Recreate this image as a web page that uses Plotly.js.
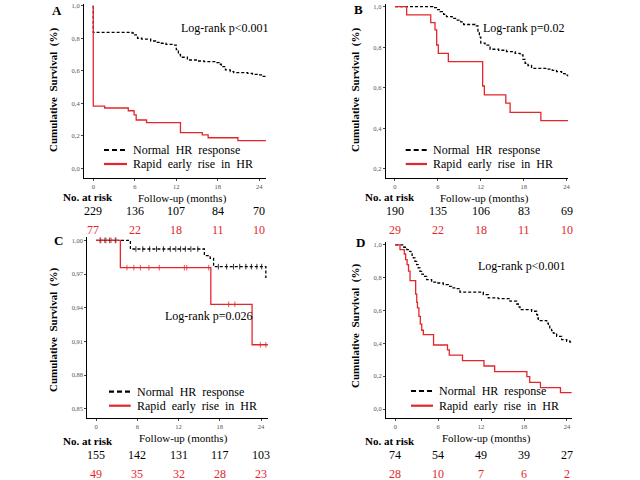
<!DOCTYPE html>
<html>
<head>
<meta charset="utf-8">
<script src="https://cdn.plot.ly/plotly-3.0.1.min.js"></script>
<style>html,body{margin:0;padding:0;background:#fff;}#chart{width:640px;height:480px;}</style>
</head>
<body>
<div id="chart"></div>
<script>
// ---------- DATA ----------
const riskMonths = [0, 6, 12, 18, 24];

// Panel A
const aNormT = [0, 0, 5.6, 6.0, 6.4, 7.0, 8.3, 9.0, 9.7, 10.5, 11.6, 12.0, 12.3, 12.6, 13.6, 15.0, 16.0, 17.7, 18.2, 18.5, 19.1, 19.8, 20.3, 22.3, 23.0, 23.7, 24.3, 24.9];
const aNormS = [1.0, 0.836, 0.832, 0.82, 0.80, 0.795, 0.783, 0.775, 0.769, 0.762, 0.758, 0.73, 0.70, 0.683, 0.666, 0.66, 0.656, 0.650, 0.64, 0.625, 0.605, 0.595, 0.588, 0.584, 0.578, 0.574, 0.565, 0.557];
const aRapT = [0, 0, 1.65, 5.06, 5.9, 6.2, 7.7, 12.6, 15.75, 16.6, 20.9, 24.95];
const aRapS = [1.0, 0.383, 0.371, 0.354, 0.328, 0.297, 0.281, 0.219, 0.205, 0.188, 0.170, 0.170];
const aRiskNorm = [229, 136, 107, 84, 70];
const aRiskRap = [77, 22, 18, 11, 10];

// Panel B
const bNormT = [0, 5.3, 5.8, 6.3, 6.8, 7.2, 8.0, 8.6, 9.2, 9.6, 11.2, 11.6, 11.8, 12.0, 12.6, 13.3, 14.5, 15.6, 16.8, 17.5, 17.9, 18.2, 18.6, 19.1, 21.2, 22.0, 22.6, 23.3, 23.8, 24.2];
const bNormS = [1.0, 0.995, 0.985, 0.975, 0.962, 0.951, 0.942, 0.934, 0.925, 0.912, 0.905, 0.88, 0.85, 0.82, 0.81, 0.79, 0.785, 0.778, 0.77, 0.762, 0.74, 0.721, 0.71, 0.696, 0.692, 0.686, 0.68, 0.67, 0.662, 0.655];
const bRapT = [0, 1.63, 5.0, 5.6, 5.83, 6.06, 7.46, 12.26, 12.5, 15.5, 16.1, 20.4, 24.2];
const bRapS = [1.0, 0.959, 0.921, 0.885, 0.811, 0.770, 0.729, 0.609, 0.565, 0.524, 0.479, 0.438, 0.438];
const bRiskNorm = [190, 135, 106, 83, 69];
const bRiskRap = [29, 22, 18, 11, 10];

// Panel C
const cNormT = [0, 5.0, 15.76, 16.6, 17.1, 24.7, 24.8];
const cNormS = [1.0, 0.9923, 0.9864, 0.984, 0.9766, 0.967, 0.967];
const cRapT = [0, 3.54, 16.7, 22.7, 25.0];
const cRapS = [1.0, 0.9757, 0.943, 0.907, 0.907];
const cNormCens = [0.6, 1.3, 2.0, 2.8, 5.8, 6.8, 7.8, 8.8, 9.8, 10.8, 11.6, 12.3, 13.0, 13.8, 14.8, 17.8, 19.0, 20.0, 20.9, 21.8, 22.6, 23.4, 24.1];
const cRapCens = [0.7, 1.45, 2.2, 2.9, 4.5, 5.5, 6.45, 7.7, 9.2, 12.85, 13.2, 16.4, 19.3, 20.2, 23.9, 24.7];
const cRiskNorm = [155, 142, 131, 117, 103];
const cRiskRap = [49, 35, 32, 28, 23];

// Panel D
const dNormT = [0, 1.2, 1.6, 1.82, 2.19, 2.35, 2.52, 2.75, 2.98, 3.2, 3.45, 3.7, 3.91, 4.38, 5.08, 5.78, 6.71, 7.41, 7.88, 8.58, 9.04, 12.31, 13.0, 14.4, 16.04, 16.97, 17.2, 17.44, 19.07, 19.77, 19.9, 20.0, 21.17, 21.4, 21.6, 21.85, 22.1, 22.57, 23.27, 23.97, 24.43, 24.6];
const dNormS = [1.0, 0.986, 0.972, 0.961, 0.951, 0.936, 0.921, 0.90, 0.880, 0.86, 0.839, 0.822, 0.809, 0.789, 0.774, 0.768, 0.758, 0.748, 0.738, 0.734, 0.713, 0.697, 0.677, 0.673, 0.657, 0.640, 0.622, 0.606, 0.596, 0.575, 0.556, 0.539, 0.524, 0.509, 0.494, 0.478, 0.463, 0.443, 0.423, 0.413, 0.408, 0.408];
const dRapT = [0, 0.66, 1.26, 1.45, 1.65, 1.85, 2.06, 2.85, 3.0, 3.1, 3.3, 3.5, 3.7, 3.92, 5.35, 7.3, 7.55, 9.4, 12.4, 13.9, 18.4, 18.8, 20.3, 23.1, 24.7];
const dRapS = [1.0, 0.971, 0.945, 0.91, 0.88, 0.84, 0.782, 0.70, 0.65, 0.616, 0.565, 0.518, 0.48, 0.453, 0.39, 0.36, 0.329, 0.295, 0.262, 0.228, 0.197, 0.162, 0.13, 0.10, 0.10];
const dRiskNorm = [74, 54, 49, 39, 27];
const dRiskRap = [28, 10, 7, 6, 2];

const panelLetters = ['A', 'B', 'C', 'D'];
const logRankTexts = ['Log-rank p&lt;0.001', 'Log-rank p=0.02', 'Log-rank p=0.026', 'Log-rank p&lt;0.001'];
const legendNames = ['Normal  HR  response', 'Rapid  early  rise  in  HR'];

// ---------- STYLE ----------
const FONT = 'Liberation Serif, serif';
const RED = '#e3262b';
const W = 640, H = 480;
const px = v => v / W;
const py = v => 1 - v / H;

function stepAt(T, S, t) {
  let s = S[0];
  for (let i = 0; i < T.length; i++) { if (T[i] <= t) s = S[i]; }
  return s;
}

const panels = [
  {key: '', normT: aNormT, normS: aNormS, rapT: aRapT, rapS: aRapS, rN: aRiskNorm, rR: aRiskRap,
   dom: [84, 266, 4, 178.3], xr: [-1.34, 24.96], yr: [-0.0615, 1.0105], tv: [0, 0.2, 0.4, 0.6, 0.8, 1.0], tf: '.1f',
   letter: [57, 10], lr: [224, 28], leg: [104, 127, 150, 164], ytitle: [53, 90],
   nar: [88, 197.5], fu: [182, 198.5], rows: [211, 229.5]},
  {key: '2', normT: bNormT, normS: bNormS, rapT: bRapT, rapS: bRapS, rN: bRiskNorm, rR: bRiskRap,
   dom: [385.7, 568.3, 4, 178.3], xr: [-1.3, 24.24], yr: [0.154, 1.013], tv: [0.2, 0.4, 0.6, 0.8, 1.0], tf: '.1f',
   letter: [358, 9], lr: [523, 28], leg: [405.7, 427, 150, 164], ytitle: [355, 90],
   nar: [389.5, 197.5], fu: [484, 198.5], rows: [211, 229.5]},
  {key: '3', normT: cNormT, normS: cNormS, rapT: cRapT, rapS: cRapS, rN: cRiskNorm, rR: cRiskRap,
   dom: [87.3, 268.3, 237, 417.7], xr: [-1.27, 25.06], yr: [0.842, 1.003], tv: [0.85, 0.88, 0.91, 0.94, 0.97, 1.00], tf: '.2f',
   letter: [58, 240], lr: [208, 316], leg: [109, 130.7, 391.7, 405.7], ytitle: [53, 330],
   nar: [88, 441], fu: [183, 438.5], rows: [455, 473.5]},
  {key: '4', normT: dNormT, normS: dNormS, rapT: dRapT, rapS: dRapS, rN: dRiskNorm, rR: dRiskRap,
   dom: [386, 571.7, 242, 417.7], xr: [-1.3, 24.67], yr: [-0.053, 1.018], tv: [0, 0.2, 0.4, 0.6, 0.8, 1.0], tf: '.1f',
   letter: [360, 242], lr: [521.5, 266], leg: [411, 433, 391, 405.7], ytitle: [355, 326],
   nar: [389.5, 441], fu: [486, 438.5], rows: [455, 473.5]}
];

const traces = [];
const annotations = [];
const shapes = [];
const layout = {
  width: W, height: H, margin: {l: 0, r: 0, t: 0, b: 0},
  paper_bgcolor: '#fff', plot_bgcolor: '#fff', showlegend: false,
  separators: ',.', font: {family: FONT, color: '#000'},
  annotations: annotations, shapes: shapes
};

panels.forEach((p, i) => {
  const xa = 'x' + p.key, ya = 'y' + p.key;
  const xName = 'xaxis' + p.key, yName = 'yaxis' + p.key;
  const axCommon = {showgrid: false, zeroline: false, showline: true, linecolor: '#000', linewidth: 1,
    ticks: 'outside', ticklen: 2, tickwidth: 1, tickcolor: '#444',
    tickfont: {family: FONT, size: 6.5, color: '#555'}, fixedrange: true};
  layout[xName] = Object.assign({}, axCommon, {
    domain: [px(p.dom[0]), px(p.dom[1])], range: p.xr, anchor: ya,
    tickvals: riskMonths, ticktext: riskMonths.map(String)});
  layout[yName] = Object.assign({}, axCommon, {
    domain: [py(p.dom[3]), py(p.dom[2])], range: p.yr, anchor: xa,
    tickvals: p.tv, tickformat: p.tf});

  traces.push({x: p.normT, y: p.normS, xaxis: xa, yaxis: ya, mode: 'lines', type: 'scatter',
    line: {shape: 'hv', color: '#000', width: 1.3, dash: '3px,2px'}, hoverinfo: 'skip'});
  traces.push({x: p.rapT, y: p.rapS, xaxis: xa, yaxis: ya, mode: 'lines', type: 'scatter',
    line: {shape: 'hv', color: RED, width: 1.3}, hoverinfo: 'skip'});

  if (i === 2) {
    traces.push({x: cNormCens, y: cNormCens.map(t => stepAt(cNormT, cNormS, t)), xaxis: xa, yaxis: ya,
      mode: 'markers', type: 'scatter', marker: {symbol: 'line-ns', size: 4, line: {color: '#000', width: 0.8}}, hoverinfo: 'skip'});
    traces.push({x: cRapCens, y: cRapCens.map(t => stepAt(cRapT, cRapS, t)), xaxis: xa, yaxis: ya,
      mode: 'markers', type: 'scatter', marker: {symbol: 'line-ns', size: 4, line: {color: RED, width: 0.8}}, hoverinfo: 'skip'});
  }

  annotations.push({xref: 'paper', yref: 'paper', x: px(p.letter[0]), y: py(p.letter[1]), xanchor: 'center', yanchor: 'middle',
    text: '<b>' + panelLetters[i] + '</b>', showarrow: false, font: {family: FONT, size: 13, color: '#000'}});
  annotations.push({xref: 'paper', yref: 'paper', x: px(p.lr[0]), y: py(p.lr[1]), xanchor: 'center', yanchor: 'middle',
    text: logRankTexts[i], showarrow: false, font: {family: FONT, size: 12, color: '#000'}});
  annotations.push({xref: 'paper', yref: 'paper', x: px(p.ytitle[0]), y: py(p.ytitle[1]), xanchor: 'center', yanchor: 'middle',
    text: '<b>Cumulative  Survival  (%)</b>', textangle: -90, showarrow: false, font: {family: FONT, size: 11, color: '#000'}});
  shapes.push({type: 'line', xref: 'paper', yref: 'paper', x0: px(p.leg[0]), x1: px(p.leg[1]), y0: py(p.leg[2]), y1: py(p.leg[2]),
    line: {color: '#000', width: 2.2, dash: '5px,3px'}});
  shapes.push({type: 'line', xref: 'paper', yref: 'paper', x0: px(p.leg[0]), x1: px(p.leg[1]), y0: py(p.leg[3]), y1: py(p.leg[3]),
    line: {color: RED, width: 2.2}});
  annotations.push({xref: 'paper', yref: 'paper', x: px(p.leg[1] + 4), y: py(p.leg[2]), xanchor: 'left', yanchor: 'middle',
    text: legendNames[0], showarrow: false, font: {family: FONT, size: 12, color: '#000'}});
  annotations.push({xref: 'paper', yref: 'paper', x: px(p.leg[1] + 4), y: py(p.leg[3]), xanchor: 'left', yanchor: 'middle',
    text: legendNames[1], showarrow: false, font: {family: FONT, size: 12, color: '#000'}});
  annotations.push({xref: 'paper', yref: 'paper', x: px(p.nar[0]), y: py(p.nar[1]), xanchor: 'center', yanchor: 'middle',
    text: '<b>No. at risk</b>', showarrow: false, font: {family: FONT, size: 11, color: '#000'}});
  annotations.push({xref: 'paper', yref: 'paper', x: px(p.fu[0]), y: py(p.fu[1]), xanchor: 'center', yanchor: 'middle',
    text: 'Follow-up (months)', showarrow: false, font: {family: FONT, size: 11, color: '#000'}});
  riskMonths.forEach((m, k) => {
    annotations.push({xref: xa, yref: 'paper', x: m, y: py(p.rows[0]), xanchor: 'center', yanchor: 'middle',
      text: String(p.rN[k]), showarrow: false, font: {family: FONT, size: 12, color: '#000'}});
    annotations.push({xref: xa, yref: 'paper', x: m, y: py(p.rows[1]), xanchor: 'center', yanchor: 'middle',
      text: String(p.rR[k]), showarrow: false, font: {family: FONT, size: 12, color: RED}});
  });
});

Plotly.newPlot('chart', traces, layout, {staticPlot: true});
</script>
</body>
</html>
